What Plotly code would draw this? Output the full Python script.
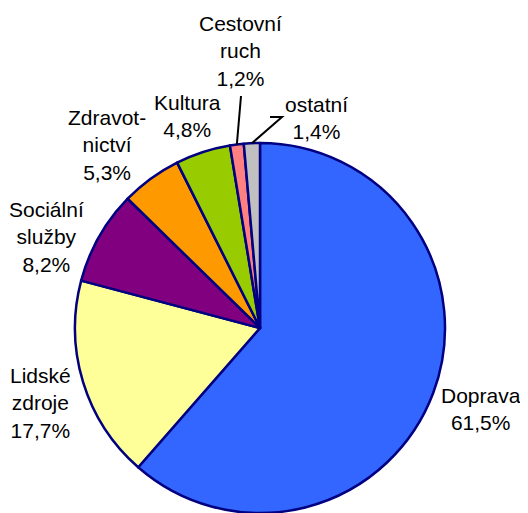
import math
import plotly.graph_objects as go

# slice data, clockwise from 12 o'clock
labels = ["Doprava", "Lidské zdroje", "Sociální služby", "Zdravotnictví",
          "Kultura", "Cestovní ruch", "ostatní"]
values = [61.5, 17.7, 8.2, 5.3, 4.8, 1.2, 1.4]
colors = ["#3366FF", "#FFFF99", "#800080", "#FF9900", "#99CC00", "#FF8080", "#C0C0C0"]
# label text as printed on the chart (line breaks as in the original)
label_text = ["Doprava<br>61,5%", "Lidské<br>zdroje<br>17,7%", "Sociální<br>služby<br>8,2%",
              "Zdravot-<br>nictví<br>5,3%", "Kultura<br>4,8%", "Cestovní<br>ruch<br>1,2%",
              "ostatní<br>1,4%"]

# the page body has an 8px margin, so the figure is drawn 8px in from the window corner
OFF = 8
W, H = 528 - OFF, 513 - OFF
R = 185
CX, CY = 260 - OFF, H - R          # pie centre in figure pixels
DOM_X = [(CX - R) / W, (CX + R) / W]
DOM_Y = [0.0, 2 * R / H]

# label block centres in window pixels
label_pos = [(481, 409), (40, 403), (46, 237), (107, 145), (187, 116), (240, 51), (316, 118)]
# leader lines: slice index -> elbow points (window pixels); line ends on the pie rim
leaders = {5: [(241, 96)], 6: [(270, 117), (282, 117)]}

fig = go.Figure(go.Pie(
    labels=labels,
    values=values,
    sort=False,
    direction="clockwise",
    rotation=0,
    textinfo="none",
    hoverinfo="label+percent",
    marker=dict(colors=colors, line=dict(color="#000080", width=2.5)),
    domain=dict(x=DOM_X, y=DOM_Y),
    showlegend=False,
))


def px2paper(x, y):
    return x / W, 1 - y / H


total = sum(values)
cum = 0
shapes = []
for i, v in enumerate(values):
    mid = (cum + v / 2) / total * 2 * math.pi
    cum += v
    if i in leaders:
        ex, ey = CX + R * math.sin(mid), CY - R * math.cos(mid)
        pts = [(x - OFF, y - OFF) for x, y in leaders[i]] + [(ex, ey)]
        path = ""
        for k, (x, y) in enumerate(pts):
            px, py = px2paper(x, y)
            path += ("M" if k == 0 else " L") + f" {px:.4f},{py:.4f}"
        shapes.append(dict(type="path", path=path, xref="paper", yref="paper",
                           line=dict(color="black", width=2)))

annotations = []
for txt, (x, y) in zip(label_text, label_pos):
    px, py = px2paper(x - OFF, y - OFF)
    annotations.append(dict(text=txt, x=px, y=py, xref="paper", yref="paper",
                            xanchor="center", yanchor="middle", showarrow=False,
                            align="center",
                            font=dict(family="Liberation Sans, Arial", size=21, color="black")))

fig.update_layout(
    width=W, height=H,
    margin=dict(l=0, r=0, t=0, b=0),
    paper_bgcolor="white",
    plot_bgcolor="white",
    shapes=shapes,
    annotations=annotations,
)

fig.write_html("out.html")
